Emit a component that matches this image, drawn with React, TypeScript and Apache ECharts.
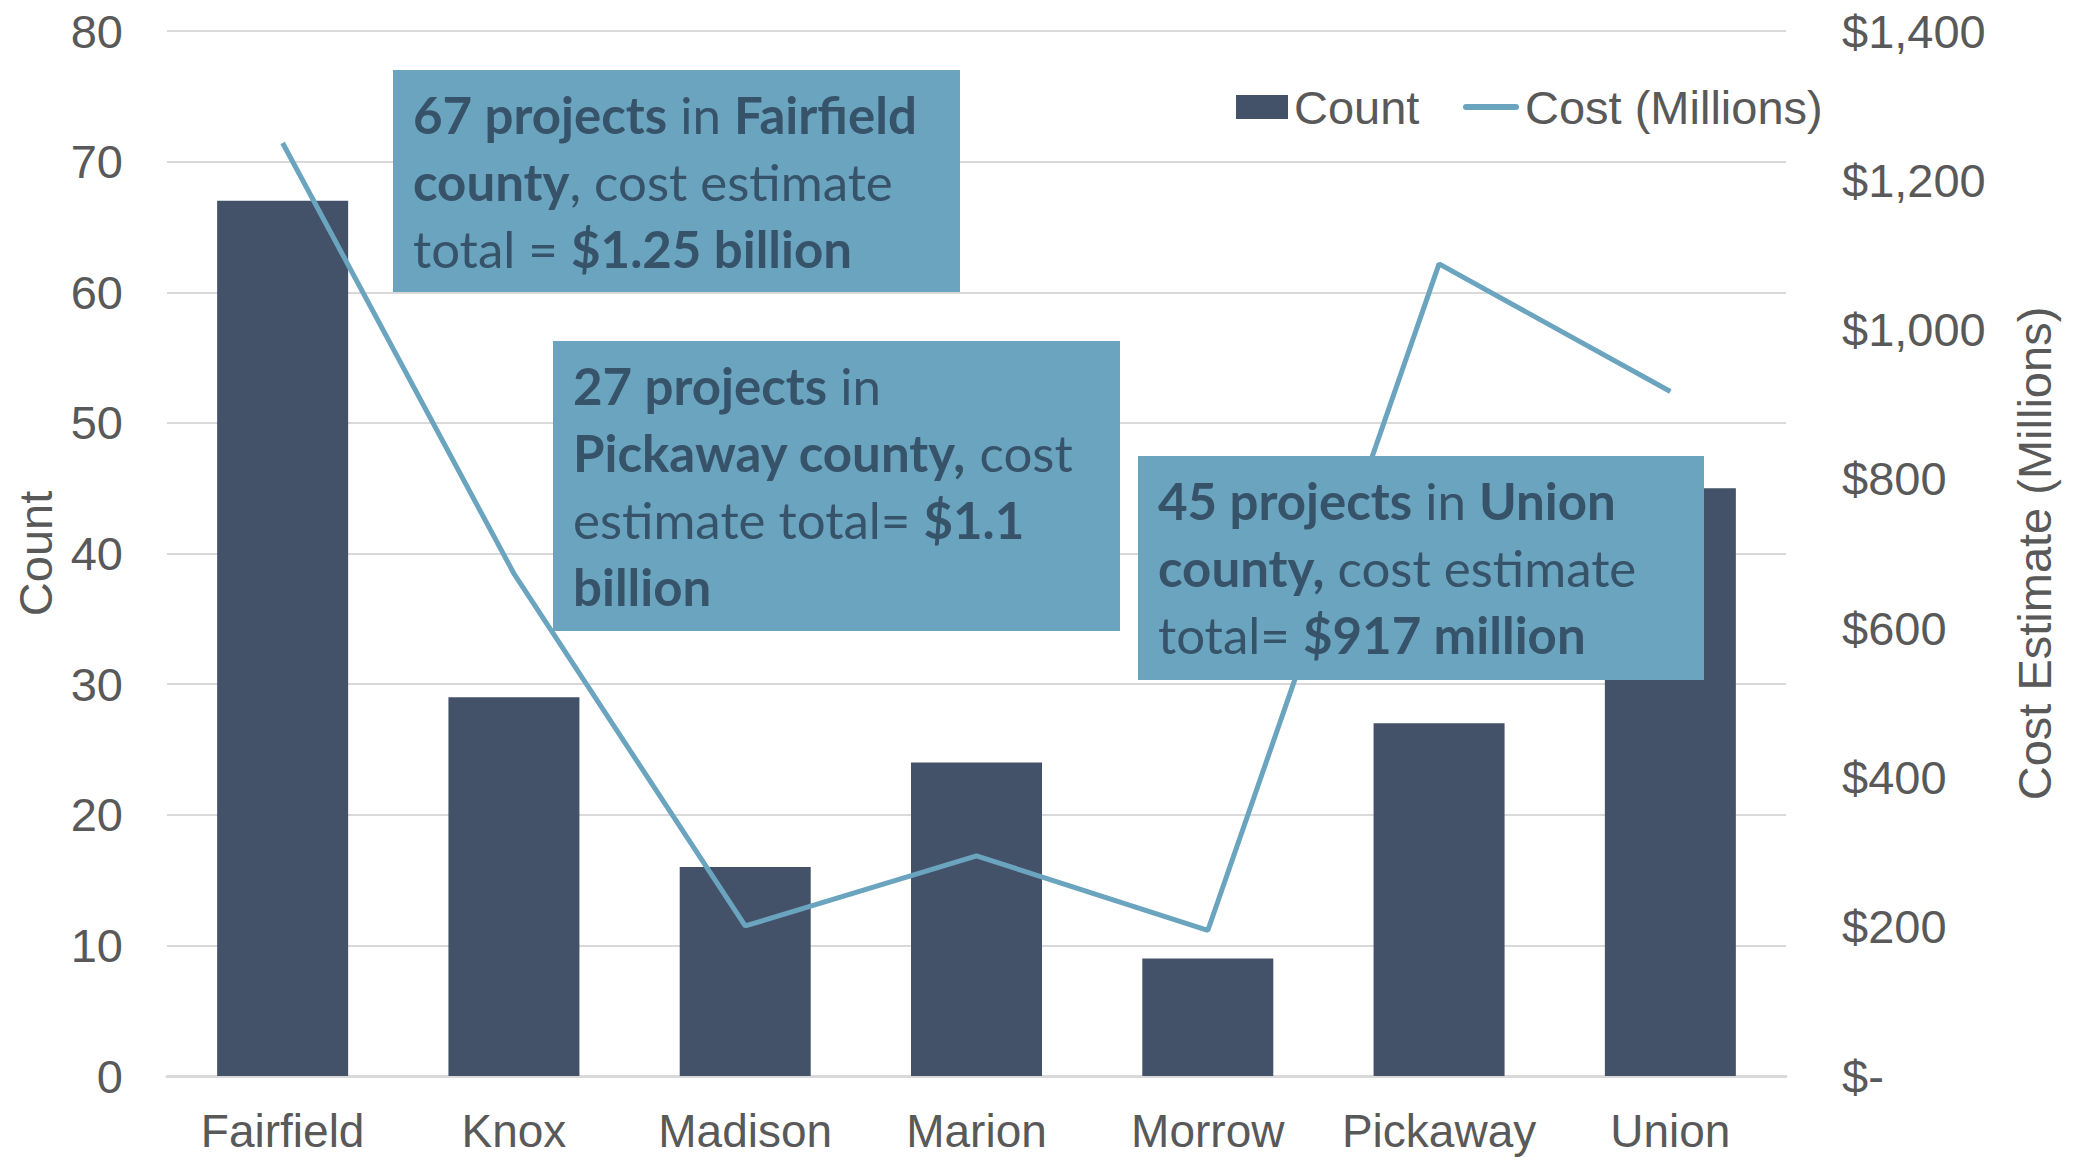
import React, { useEffect, useRef } from "react";
import * as echarts from "echarts";

const categories = ["Fairfield", "Knox", "Madison", "Marion", "Morrow", "Pickaway", "Union"];
const counts = [67, 29, 16, 24, 9, 27, 45];
const costs = [1250, 673, 201, 295, 195, 1088, 917];
const countTicks = { min: 0, max: 80, interval: 10 };
const costTicks = { min: 0, max: 1400, interval: 200 };
const seriesNames = ["Count", "Cost (Millions)"];

const annotations = [
  {
    x: 393, y: 70, w: 567, h: 222,
    text: "{b|67 projects} in {b|Fairfield}\n{b|county}, cost estimate\ntotal = {b|$1.25 billion}",
  },
  {
    x: 553, y: 341, w: 567, h: 290,
    text: "{b|27 projects} in\n{b|Pickaway county,} cost\nestimate total= {b|$1.1}\n{b|billion}",
  },
  {
    x: 1138, y: 456, w: 566, h: 224,
    text: "{b|45 projects} in {b|Union}\n{b|county,} cost estimate\ntotal= {b|$917 million}",
  },
];

const BAR = "#435269";
const LINE = "#6aa4bf";
const BOXTEXT = "#37536a";
const AXISTEXT = "#595959";
const FONT = "'Liberation Sans', Arial, sans-serif";
const BOXFONT = "Lato, 'Open Sans', sans-serif";

export default function App() {
  const ref = useRef<HTMLDivElement>(null);
  useEffect(() => {
    if (!ref.current) return;
    const chart = echarts.init(ref.current, undefined, { renderer: "svg" });
    const graphics: any[] = [];
    annotations.forEach((a) => {
      graphics.push({
        type: "rect",
        z: 100,
        shape: { x: a.x, y: a.y, width: a.w, height: a.h },
        style: { fill: LINE },
      });
      graphics.push({
        type: "text",
        z: 101,
        x: a.x + 20,
        y: a.y + 11,
        style: {
          text: a.text,
          fill: BOXTEXT,
          fontFamily: BOXFONT,
          fontSize: 51,
          lineHeight: 67,
          rich: {
            b: { fontWeight: "bold", fill: BOXTEXT, fontFamily: BOXFONT, fontSize: 51, lineHeight: 67 },
          },
        },
      });
    });
    // legend drawn with graphics to match the reference's plain line key
    graphics.push({
      type: "rect",
      z: 100,
      shape: { x: 1236, y: 95, width: 52, height: 24 },
      style: { fill: BAR },
    });
    graphics.push({
      type: "text",
      z: 100,
      x: 1294,
      y: 107,
      style: { text: seriesNames[0], fill: AXISTEXT, fontFamily: FONT, fontSize: 47, verticalAlign: "middle" },
    });
    graphics.push({
      type: "line",
      z: 100,
      shape: { x1: 1466, y1: 107, x2: 1516, y2: 107 },
      style: { stroke: LINE, lineWidth: 6, lineCap: "round" },
    });
    graphics.push({
      type: "text",
      z: 100,
      x: 1525,
      y: 107,
      style: { text: seriesNames[1], fill: AXISTEXT, fontFamily: FONT, fontSize: 47, verticalAlign: "middle" },
    });
    chart.setOption({
      animation: false,
      textStyle: { fontFamily: FONT },
      grid: { left: 167, right: 293, top: 31, bottom: 81, containLabel: false },
      xAxis: {
        type: "category",
        data: categories,
        axisTick: { show: false },
        axisLine: { lineStyle: { color: "#d9d9d9", width: 3 } },
        axisLabel: { fontSize: 46, lineHeight: 46, color: AXISTEXT, margin: 32, interval: 0, fontFamily: FONT },
      },
      yAxis: [
        {
          type: "value",
          ...countTicks,
          name: "Count",
          nameLocation: "middle",
          nameRotate: 90,
          nameGap: 108,
          nameTextStyle: { fontSize: 47, color: AXISTEXT, fontFamily: FONT },
          axisLabel: { fontSize: 47, color: AXISTEXT, margin: 44, fontFamily: FONT },
          splitLine: { lineStyle: { color: "#d9d9d9", width: 2 } },
          axisLine: { show: false },
          axisTick: { show: false },
        },
        {
          type: "value",
          ...costTicks,
          position: "right",
          name: "Cost Estimate (Millions)",
          nameLocation: "middle",
          nameRotate: 90,
          nameGap: 225,
          nameTextStyle: { fontSize: 47, color: AXISTEXT, fontFamily: FONT },
          axisLabel: {
            fontSize: 47,
            color: AXISTEXT,
            margin: 56,
            fontFamily: FONT,
            formatter: (v: number) => (v === 0 ? "$-" : "$" + v.toLocaleString("en-US")),
          },
          splitLine: { show: false },
          axisLine: { show: false },
          axisTick: { show: false },
        },
      ],
      series: [
        {
          name: seriesNames[0],
          type: "bar",
          data: counts,
          barWidth: 131,
          itemStyle: { color: BAR },
          yAxisIndex: 0,
        },
        {
          name: seriesNames[1],
          type: "line",
          data: costs,
          yAxisIndex: 1,
          symbol: "none",
          showSymbol: false,
          lineStyle: { color: LINE, width: 5 },
          itemStyle: { color: LINE },
          z: 5,
        },
      ],
      graphic: graphics,
    });
    return () => chart.dispose();
  }, []);
  return (
    <div
      ref={ref}
      style={{ position: "fixed", left: 0, top: 0, width: 2079, height: 1157, background: "#fff" }}
    />
  );
}
